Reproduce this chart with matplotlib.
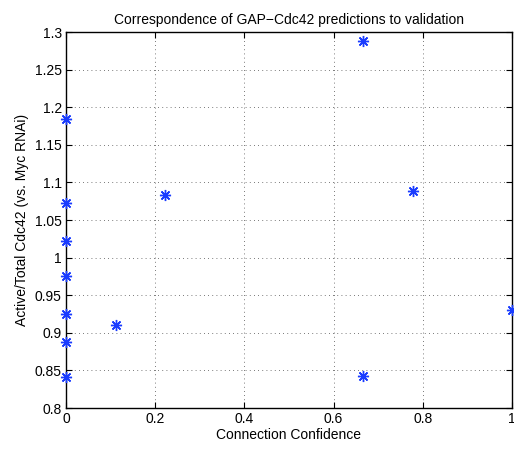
import matplotlib
matplotlib.use("Agg")
import matplotlib.pyplot as plt

confidence = [0, 0, 0, 0, 0, 0, 0, 0.111, 0.222, 0.667, 0.667, 0.778, 1.0]
ratio = [1.184, 1.072, 1.022, 0.976, 0.925, 0.888, 0.841, 0.911, 1.083, 1.288, 0.843, 1.088, 0.930]
xticks = [0, 0.2, 0.4, 0.6, 0.8, 1]
xticklabels = ["0", "0.2", "0.4", "0.6", "0.8", "1"]
yticks = [0.8, 0.85, 0.9, 0.95, 1.0, 1.05, 1.1, 1.15, 1.2, 1.25, 1.3]
yticklabels = ["0.8", "0.85", "0.9", "0.95", "1", "1.05", "1.1", "1.15", "1.2", "1.25", "1.3"]

plt.rcParams['font.family'] = ['Liberation Sans', 'DejaVu Sans']
fig = plt.figure(figsize=(5.14, 4.5), dpi=100)
ax = fig.add_axes([66/514, 42/450, 446/514, 376/450])
ax.plot(confidence, ratio, linestyle='none', marker=(8, 2, 0), color='#1a3cff',
        markersize=8, markeredgewidth=1.0, clip_on=False, zorder=3)
ax.set_xlim(0, 1)
ax.set_ylim(0.8, 1.3)
ax.set_xticks(xticks)
ax.set_xticklabels(xticklabels)
ax.set_yticks(yticks)
ax.set_yticklabels(yticklabels)
ax.grid(True, linestyle=(0, (1, 4)), color='black', linewidth=0.6, alpha=0.7)
ax.tick_params(direction='in', top=True, right=True, labelsize=10, length=4, width=0.8, pad=3)
for s in ax.spines.values():
    s.set_linewidth(1.0)
ax.set_title("Correspondence of GAP\u2212Cdc42 predictions to validation", fontsize=10, pad=6)
ax.set_xlabel("Connection Confidence", fontsize=10, labelpad=1)
ax.set_ylabel("Active/Total Cdc42 (vs. Myc RNAi)", fontsize=10, labelpad=4)
fig.savefig("out.png", dpi=100)
